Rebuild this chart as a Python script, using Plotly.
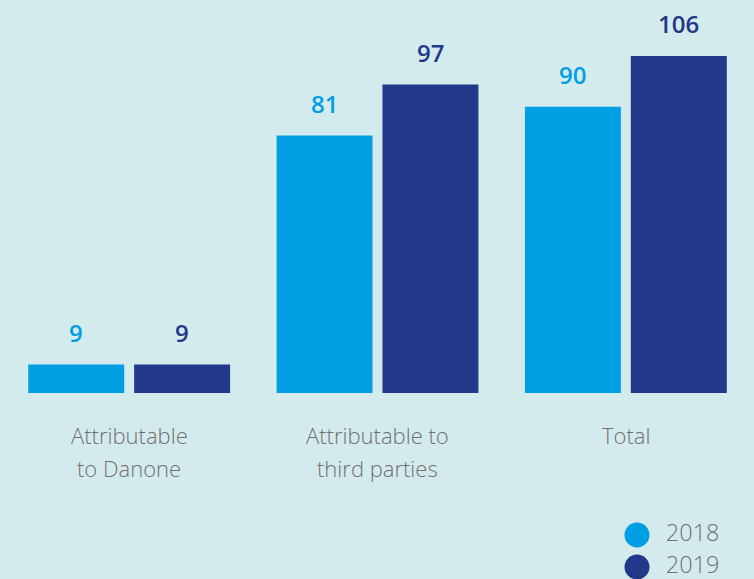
import plotly.graph_objects as go

categories = ["Attributable\nto Danone", "Attributable to\nthird parties", "Total"]
series_names = ["2018", "2019"]
values_2018 = [9, 81, 90]
values_2019 = [9, 97, 106]
series_values = [values_2018, values_2019]
colors = ["#009fe3", "#22388b"]

BG = "#d4ebee"
GREY = "#707070"
W, H = 754, 579
BASE_PX = 393
PX_PER_UNIT = 3.18
dom_bottom = (H - BASE_PX) / H

fig = go.Figure()
for name, vals, col in zip(series_names, series_values, colors):
    fig.add_trace(go.Bar(x=categories, y=vals, name=name, marker_color=col,
                         marker_line_width=0, showlegend=False, hoverinfo="skip"))

annotations = []
# value labels
for si, (vals, col) in enumerate(zip(series_values, colors)):
    shift = -53 if si == 0 else 53
    for c, v in zip(categories, vals):
        annotations.append(dict(x=c, y=v, xref="x", yref="y", text=str(v), showarrow=False,
                                xshift=shift, yshift=32, yanchor="middle",
                                font=dict(family="Open Sans", size=24, color=col, weight=600)))
# category labels
for c in categories:
    for li, line in enumerate(c.split("\n")):
        annotations.append(dict(x=c, y=dom_bottom, xref="x", yref="paper", text=line,
                                showarrow=False, yanchor="middle", yshift=-42 - 33 * li,
                                font=dict(family="Open Sans", size=22, color=GREY, weight=300)))

# custom legend on its own axes
for i, (name, col) in enumerate(zip(series_names, colors)):
    fig.add_trace(go.Scatter(x=[0], y=[44 - 32 * i], xaxis="x2", yaxis="y2", mode="markers+text",
                             marker=dict(size=25, color=col), text=["  " + name],
                             textposition="middle right", cliponaxis=False, showlegend=False,
                             hoverinfo="skip",
                             textfont=dict(family="Open Sans", size=23.5, color=GREY, weight=300)))

fig.update_layout(
    width=W, height=H,
    margin=dict(l=5, r=4, t=0, b=0),
    paper_bgcolor=BG, plot_bgcolor=BG,
    barmode="group", bargap=0.147, bargroupgap=0.094,
    showlegend=False,
    xaxis=dict(showticklabels=False, showgrid=False, zeroline=False, showline=False,
               range=[-0.5, 2.5], fixedrange=True),
    yaxis=dict(domain=[dom_bottom, 1], range=[0, BASE_PX / PX_PER_UNIT], showgrid=False,
               zeroline=False, showticklabels=False, showline=False),
    xaxis2=dict(domain=[(637 - 5) / 745, 1], range=[0, 1], visible=False, anchor="y2"),
    yaxis2=dict(domain=[0, dom_bottom], range=[0, H - BASE_PX], visible=False, anchor="x2"),
    annotations=annotations,
)

fig.write_html("out.html", config={"displayModeBar": False},
               post_script="document.body.style.margin='0px';document.body.style.padding='0px';"
                           "document.body.style.overflow='hidden';document.body.style.background='" + BG + "';")
